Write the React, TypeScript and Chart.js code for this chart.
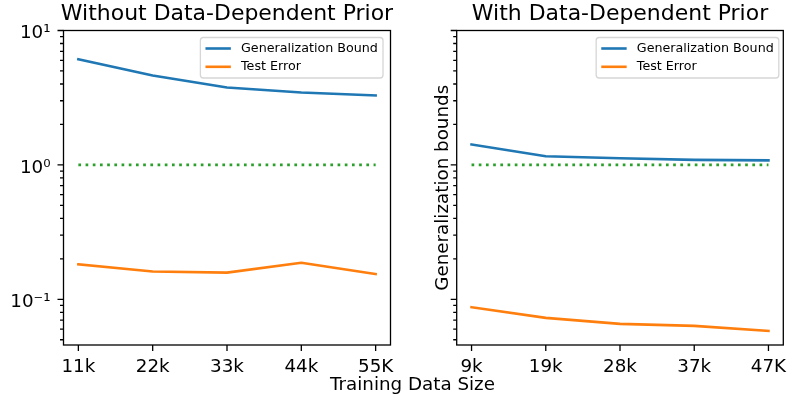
import React, { useEffect, useRef } from "react";
import { Chart, registerables } from "chart.js";

Chart.register(...registerables);

// ---------- data ----------
const leftSizes = ["11k", "22k", "33k", "44k", "55K"];
const rightSizes = ["9k", "19k", "28k", "37k", "47K"];
const leftBound = [6.1, 4.63, 3.77, 3.46, 3.29];
const leftTestError = [0.182, 0.161, 0.158, 0.187, 0.154];
const rightBound = [1.42, 1.16, 1.12, 1.09, 1.08];
const rightTestError = [0.0873, 0.0727, 0.0656, 0.0634, 0.0581];
const referenceLevel = [1, 1, 1, 1, 1];
const yMajorTicks = [0.1, 1, 10];
const yMajorLabels = ["10⁻¹", "10⁰", "10¹"];
const yMinorTicks = [0.05, 0.06, 0.07, 0.08, 0.09, 0.2, 0.3, 0.4, 0.5, 0.6, 0.7, 0.8, 0.9, 2, 3, 4, 5, 6, 7, 8, 9];
const yMin = 0.0457;
const yMax = 10;
const titles = ["Without Data-Dependent Prior", "With Data-Dependent Prior"];
const xAxisLabel = "Training Data Size";
const yAxisLabel = "Generalization bounds";
const seriesNames = ["Generalization Bound", "Test Error"];

const BLUE = "#1f77b4";
const ORANGE = "#ff7f0e";
const GREEN = "#2ca02c";
const FONT = "DejaVu Sans";
const BASE = 18.3;

Chart.defaults.font.family = FONT;

type PanelCfg = {
  offsetX: number;
  width: number;
  yAxisWidth: number;
  padRight: number;
  legendGap: number;
  labels: string[];
  bound: number[];
  test: number[];
  title: string;
  showYLabels: boolean;
  showYTitle: boolean;
};

function makePlugin(cfg: PanelCfg) {
  return {
    id: "mplDecor",
    afterDraw(chart: any) {
      const ctx = chart.ctx as CanvasRenderingContext2D;
      const ca = chart.chartArea;
      const xs = chart.scales.x;
      const ys = chart.scales.y;
      ctx.save();
      // spines
      ctx.strokeStyle = "#000";
      ctx.lineWidth = 1.3;
      ctx.strokeRect(ca.left, ca.top, ca.right - ca.left, ca.bottom - ca.top);
      // x ticks
      ctx.beginPath();
      for (let i = 0; i < cfg.labels.length; i++) {
        const px = xs.getPixelForValue(i);
        ctx.moveTo(px, ca.bottom);
        ctx.lineTo(px, ca.bottom + 6);
      }
      // y ticks
      const allY = [...yMajorTicks.map((v) => [v, 6]), ...yMinorTicks.map((v) => [v, 3.5])];
      for (const [v, len] of allY) {
        if (v < yMin || v > yMax) continue;
        const py = ys.getPixelForValue(v);
        ctx.moveTo(ca.left - len, py);
        ctx.lineTo(ca.left, py);
      }
      ctx.stroke();

      // title
      ctx.fillStyle = "#000";
      ctx.font = `${BASE * 1.2}px "${FONT}"`;
      ctx.textAlign = "center";
      ctx.textBaseline = "alphabetic";
      ctx.fillText(cfg.title, (ca.left + ca.right) / 2, 20);

      // shared x label (drawn in both canvases, clipped by each)
      ctx.font = `${BASE}px "${FONT}"`;
      ctx.fillText(xAxisLabel, 412.5 - cfg.offsetX, 390);

      // y label
      if (cfg.showYTitle) {
        ctx.save();
        ctx.translate(448 - cfg.offsetX, (ca.top + ca.bottom) / 2);
        ctx.rotate(-Math.PI / 2);
        ctx.textAlign = "center";
        ctx.textBaseline = "alphabetic";
        ctx.fillText(yAxisLabel, 0, 0);
        ctx.restore();
      }

      // legend
      const lf = BASE * 0.694;
      ctx.font = `${lf}px "${FONT}"`;
      const tw = Math.max(...seriesNames.map((s) => ctx.measureText(s).width));
      const pad = 0.4 * lf;
      const handle = 2 * lf;
      const gap = 0.8 * lf;
      const bw = pad * 2 + handle + gap + tw;
      const bh = 40.5;
      const bx = ca.right - cfg.legendGap - bw;
      const by = ca.top + 7;
      ctx.beginPath();
      const r = 3;
      ctx.moveTo(bx + r, by);
      ctx.lineTo(bx + bw - r, by);
      ctx.quadraticCurveTo(bx + bw, by, bx + bw, by + r);
      ctx.lineTo(bx + bw, by + bh - r);
      ctx.quadraticCurveTo(bx + bw, by + bh, bx + bw - r, by + bh);
      ctx.lineTo(bx + r, by + bh);
      ctx.quadraticCurveTo(bx, by + bh, bx, by + bh - r);
      ctx.lineTo(bx, by + r);
      ctx.quadraticCurveTo(bx, by, bx + r, by);
      ctx.closePath();
      ctx.fillStyle = "rgba(255,255,255,0.8)";
      ctx.fill();
      ctx.strokeStyle = "rgba(204,204,204,0.8)";
      ctx.lineWidth = 1.3;
      ctx.stroke();
      const colors = [BLUE, ORANGE];
      seriesNames.forEach((name, i) => {
        const ly = by + 11 + i * 18.3;
        ctx.strokeStyle = colors[i];
        ctx.lineWidth = 2.6;
        ctx.beginPath();
        ctx.moveTo(bx + pad, ly);
        ctx.lineTo(bx + pad + handle, ly);
        ctx.stroke();
        ctx.fillStyle = "#000";
        ctx.textAlign = "left";
        ctx.textBaseline = "middle";
        ctx.fillText(name, bx + pad + handle + gap, ly);
      });
      ctx.restore();
    },
  };
}

function Panel({ cfg }: { cfg: PanelCfg }) {
  const ref = useRef<HTMLCanvasElement | null>(null);
  useEffect(() => {
    if (!ref.current) return;
    const toPts = (arr: number[]) => arr.map((v, i) => ({ x: i, y: v }));
    const chart = new Chart(ref.current, {
      type: "line",
      data: {
        datasets: [
          {
            label: seriesNames[0],
            data: toPts(cfg.bound),
            borderColor: BLUE,
            borderWidth: 2.6,
            pointRadius: 0,
            tension: 0,
            borderCapStyle: "square",
            borderJoinStyle: "round",
          },
          {
            label: seriesNames[1],
            data: toPts(cfg.test),
            borderColor: ORANGE,
            borderWidth: 2.6,
            pointRadius: 0,
            tension: 0,
            borderCapStyle: "square",
            borderJoinStyle: "round",
          },
          {
            label: "reference",
            data: toPts(referenceLevel),
            borderColor: GREEN,
            borderWidth: 2.6,
            borderDash: [2.7, 4.5],
            borderCapStyle: "butt",
            pointRadius: 0,
          },
        ],
      },
      options: {
        responsive: false,
        maintainAspectRatio: false,
        devicePixelRatio: 1,
        animation: false,
        layout: { padding: { left: 0, right: cfg.padRight, top: 30.5, bottom: 0 } },
        plugins: {
          legend: { display: false },
          title: { display: false },
          tooltip: { enabled: false },
        },
        scales: {
          x: {
            type: "linear",
            min: -0.2,
            max: 4.2,
            grid: { display: false, drawTicks: false },
            border: { display: false },
            afterBuildTicks: (scale: any) => {
              scale.ticks = cfg.labels.map((_, i) => ({ value: i }));
            },
            afterFit: (scale: any) => {
              scale.height = 56;
              scale.paddingLeft = 0;
              scale.paddingRight = 0;
            },
            ticks: {
              autoSkip: false,
              maxRotation: 0,
              padding: 11.5,
              color: "#000",
              font: { size: BASE, family: FONT },
              callback: (v: any) => cfg.labels[Number(v)] ?? "",
            },
          },
          y: {
            type: "logarithmic",
            min: yMin,
            max: yMax,
            grid: { display: false, drawTicks: false },
            border: { display: false },
            afterBuildTicks: (scale: any) => {
              scale.ticks = yMajorTicks.map((v) => ({ value: v }));
            },
            afterFit: (scale: any) => {
              scale.width = cfg.yAxisWidth;
              scale.paddingTop = 0;
              scale.paddingBottom = 0;
            },
            ticks: {
              autoSkip: false,
              padding: 13,
              labelOffset: 3,
              color: "#000",
              font: { size: BASE, family: FONT },
              callback: (v: any) => {
                if (!cfg.showYLabels) return "";
                const idx = yMajorTicks.findIndex((m) => Math.abs(m - Number(v)) < 1e-9);
                return idx >= 0 ? yMajorLabels[idx] : "";
              },
            },
          },
        },
      },
      plugins: [makePlugin(cfg)],
    } as any);
    return () => chart.destroy();
  }, [cfg]);
  return (
    <canvas
      ref={ref}
      width={cfg.width}
      height={401}
      style={{ position: "absolute", left: cfg.offsetX, top: 0, width: cfg.width, height: 401, display: "block" }}
    />
  );
}

const leftCfg: PanelCfg = {
  offsetX: 0,
  width: 400,
  yAxisWidth: 63.5,
  padRight: 9.5,
  legendGap: 7.5,
  labels: leftSizes,
  bound: leftBound,
  test: leftTestError,
  title: titles[0],
  showYLabels: true,
  showYTitle: false,
};

const rightCfg: PanelCfg = {
  offsetX: 400,
  width: 390,
  yAxisWidth: 56.7,
  padRight: 6.7,
  legendGap: 4.5,
  labels: rightSizes,
  bound: rightBound,
  test: rightTestError,
  title: titles[1],
  showYLabels: false,
  showYTitle: true,
};

export default function App() {
  return (
    <div style={{ position: "fixed", left: 0, top: 0, width: 790, height: 401, background: "#fff" }}>
      <Panel cfg={leftCfg} />
      <Panel cfg={rightCfg} />
    </div>
  );
}
